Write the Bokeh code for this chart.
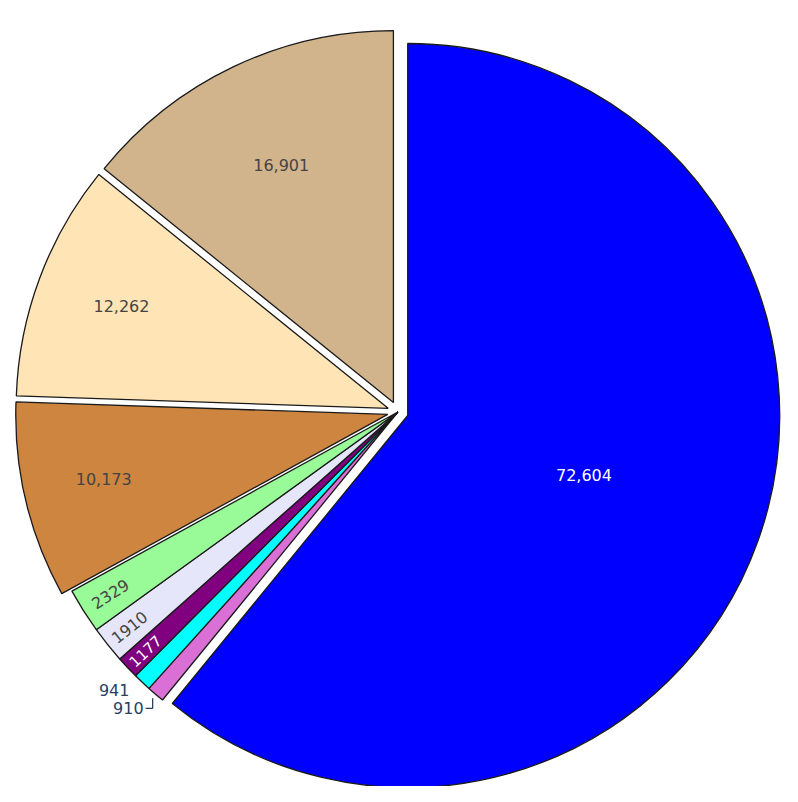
import math
from bokeh.plotting import figure
from bokeh.models import Range1d
from bokeh.core.properties import value
from bokeh.embed import file_html
from bokeh.resources import INLINE

# ---- data (clockwise from 12 o'clock) ----
slice_values = [72604, 910, 941, 1177, 1910, 2329, 10173, 12262, 16901]
slice_colors = ["#0000ff", "#da70d6", "#00ffff", "#800080", "#e6e6fa",
                "#98fb98", "#cd853f", "#ffe4b5", "#d2b48c"]

# ---- styles / layout ----
pulls = [0.028, 0, 0, 0, 0, 0, 0.028, 0.028, 0.028]
label_modes = ["in", "out", "out", "radial", "radial", "radial", "in", "in", "in"]
label_fracs = [0.503, 1.0, 1.0, 0.935, 0.925, 0.915, 0.785, 0.765, 0.70]
out_offsets = {1: (-12.0, 14.0), 2: (-12.7, 8.3)}
text_colors = ["white", "#2a3f5f", "#2a3f5f", "white", "#444444",
               "#444444", "#444444", "#444444", "#444444"]
font_sizes = ["16px", "16px", "16px", "15px", "16px", "16px", "16px", "16px", "16px"]
leader_for = [1]
IN_SHIFT = -3.0   # screen px vertical nudge for horizontal inside labels

W, H = 782, 786
CX, CY = 397.4, 411.5   # screen px
R = 372.0
FONT = "DejaVu Sans"


def fmt(v):
    return f"{v:,}" if v >= 10000 else str(v)


def dy(sy):
    return 802 - sy


p = figure(width=W, height=H, x_range=Range1d(0, W), y_range=Range1d(802 - H, 802),
           output_backend="svg", toolbar_location=None, min_border=0)
p.axis.visible = False
p.grid.visible = False
p.outline_line_color = None
p.background_fill_color = "white"
p.border_fill_color = "white"

total = sum(slice_values)
cum = 0
xs, ys, sa, ea = [], [], [], []
tx, ty, tt, tang, tcol, talign = [], [], [], [], [], []
leaders_x, leaders_y = [], []
for i, v in enumerate(slice_values):
    t0 = cum / total * 360.0
    cum += v
    t1 = cum / total * 360.0
    tm = math.radians((t0 + t1) / 2)
    ux, uy = math.sin(tm), -math.cos(tm)  # screen direction of bisector
    d = pulls[i] * R
    cx, cy = CX + d * ux, CY + d * uy
    xs.append(cx)
    ys.append(dy(cy))
    sa.append(math.radians(90 - t0))
    ea.append(math.radians(90 - t1))

    mode = label_modes[i]
    if mode in ("in", "radial"):
        lx, ly = cx + label_fracs[i] * R * ux, cy + label_fracs[i] * R * uy
        tt.append(fmt(v)); tcol.append(text_colors[i]); talign.append("center")
        if mode == "radial":
            a = 90 - (t0 + t1) / 2 + 180
            tang.append(math.radians(a))
        else:
            ly += IN_SHIFT
            tang.append(0.0)
        tx.append(lx); ty.append(dy(ly))
    else:
        ox, oy = cx + R * ux, cy + R * uy
        offx, offy = out_offsets[i]
        lx, ly = ox + offx, oy + offy
        tx.append(lx); ty.append(dy(ly)); tt.append(fmt(v))
        tcol.append(text_colors[i]); talign.append("right"); tang.append(0.0)
        if i in leader_for:
            leaders_x.append([ox - 3, ox - 3, lx + 2])
            leaders_y.append([dy(oy + 4), dy(ly), dy(ly)])

p.wedge(x=xs, y=ys, radius=R, start_angle=sa, end_angle=ea, direction="clock",
        fill_color=slice_colors, line_color="#1a1a1a", line_width=1.3)

if leaders_x:
    p.multi_line(xs=leaders_x, ys=leaders_y, line_color="#2a3f5f", line_width=1.3)

for i in range(len(tt)):
    p.text(x=[tx[i]], y=[ty[i]], text=[tt[i]], angle=tang[i],
           text_align=talign[i], text_baseline="middle",
           text_font=value(FONT), text_font_size=font_sizes[i], text_color=tcol[i])

open("out.html", "w").write(file_html(p, INLINE))
